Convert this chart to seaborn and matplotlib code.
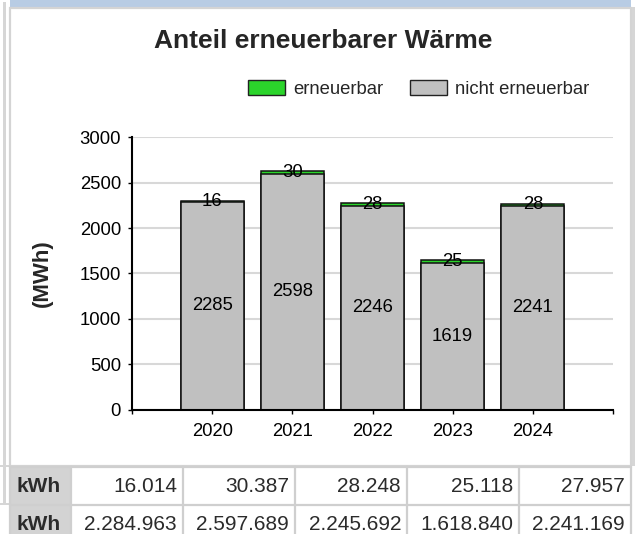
import matplotlib
matplotlib.use("Agg")
import matplotlib.pyplot as plt
import seaborn as sns
import pandas as pd
from matplotlib.patches import Rectangle, Patch

# data (kWh, from the table under the chart)
years = ["2020", "2021", "2022", "2023", "2024"]
renew_kwh = [16014, 30387, 28248, 25118, 27957]
nonrenew_kwh = [2284963, 2597689, 2245692, 1618840, 2241169]

renew = [v / 1000 for v in renew_kwh]
nonrenew = [v / 1000 for v in nonrenew_kwh]

df = pd.DataFrame({"Jahr": years, "erneuerbar": renew, "nicht": nonrenew})
df["gesamt"] = df["erneuerbar"] + df["nicht"]

GREEN = "#2bd42b"
GREY = "#c0c0c0"
FS = 13.3

sns.set_theme(style="white")
plt.rcParams["font.family"] = ["Liberation Sans", "DejaVu Sans"]

W, H = 637, 534
fig = plt.figure(figsize=(W / 100, H / 100), dpi=100)

# page background / frames (pixel coords)
bg = fig.add_axes([0, 0, 1, 1], zorder=0)
bg.set_xlim(0, W)
bg.set_ylim(H, 0)
bg.axis("off")
bg.add_patch(Rectangle((10, 0), 621, 6.5, color="#b8cce4", lw=0))
bg.add_patch(Rectangle((3, 2), 2.5, 501, color="#d6d6d6", lw=0))
bg.add_patch(Rectangle((0, 502.5), 10, 2, color="#d6d6d6", lw=0))
bg.add_patch(Rectangle((0, 465), 10, 2, color="#d6d6d6", lw=0))
bg.add_patch(Rectangle((10, 7.5), 621, 458, facecolor="white",
                       edgecolor="#d4d4d4", lw=1.6))
bg.add_patch(Rectangle((632, 7), 3, 459, color="#d6d6d6", lw=0))

# table below the chart
cols = [10, 71, 183, 295, 407, 519, 631]
rows = [467, 505, 543]
bg.add_patch(Rectangle((cols[0], rows[0]), cols[1] - cols[0], rows[2] - rows[0],
                       color="#d3d3d3", lw=0))
for y in rows[:2]:
    bg.plot([cols[0], cols[-1]], [y, y], color="#cfcfcf", lw=1.6)
for x in cols:
    bg.plot([x, x], [rows[0], H], color="#cfcfcf", lw=1.6)


def de_fmt(v):
    return f"{v:,}".replace(",", ".")


for r, vals in enumerate([renew_kwh, nonrenew_kwh]):
    yc = [487, 524][r]
    bg.text(16, yc, "kWh", ha="left", va="center", fontsize=15,
            fontweight="bold", color="#2b2b2b")
    for c, v in enumerate(vals):
        bg.text(cols[c + 2] - 6, yc, de_fmt(v), ha="right", va="center",
                fontsize=15, color="#2b2b2b")

# chart
ax = fig.add_axes([132 / W, 1 - 409.5 / H, (613 - 132) / W, (409.5 - 137.3) / H],
                  zorder=1)
ax.patch.set_alpha(0)

sns.barplot(data=df, x="Jahr", y="gesamt", color=GREEN, saturation=1,
            width=0.79, edgecolor="#111111", linewidth=1.1, ax=ax)
sns.barplot(data=df, x="Jahr", y="nicht", color=GREY, saturation=1,
            width=0.79, edgecolor="#111111", linewidth=1.1, ax=ax)

for i in range(len(years)):
    ax.text(i, nonrenew[i] / 2, f"{round(nonrenew[i])}", ha="center", va="center",
            fontsize=FS, color="black")
    ax.text(i, nonrenew[i] + renew[i] / 2, f"{round(renew[i])}", ha="center",
            va="center", fontsize=FS, color="black")

ax.set_xlim(-1, 5)
ax.set_ylim(0, 3000)
ax.set_yticks(range(0, 3001, 500))
ax.set_xticks(range(-1, 6))
ax.set_xticklabels([""] + years + [""])
ax.set_xlabel("")
ax.set_ylabel("(MWh)", fontsize=16, fontweight="bold")
ax.yaxis.set_label_coords(-0.164, 0.5)
ax.yaxis.grid(True, color="#d8d8d8", lw=1.5)
ax.set_axisbelow(True)
sns.despine(ax=ax)
for s in ["left", "bottom"]:
    ax.spines[s].set_color("black")
    ax.spines[s].set_linewidth(1.5)
ax.tick_params(axis="both", direction="out", length=3, width=1, color="black",
               labelsize=FS, labelcolor="black", left=True, bottom=True)
ax.tick_params(axis="x", pad=7)
ax.tick_params(axis="y", pad=5)

fig.text(323.5 / W, 1 - 41 / H, "Anteil erneuerbarer Wärme", ha="center",
         va="center", fontsize=19, fontweight="bold")

handles = [Patch(facecolor=GREEN, edgecolor="#222222", lw=1, label="erneuerbar"),
           Patch(facecolor=GREY, edgecolor="#222222", lw=1, label="nicht erneuerbar")]
fig.legend(handles=handles, loc="center left", bbox_to_anchor=(248 / W, 1 - 89 / H),
           ncol=2, frameon=False, fontsize=FS, handlelength=2.0,
           handleheight=0.86, handletextpad=0.43, columnspacing=1.46, borderpad=0,
           borderaxespad=0)

fig.savefig("out.png", dpi=100)
